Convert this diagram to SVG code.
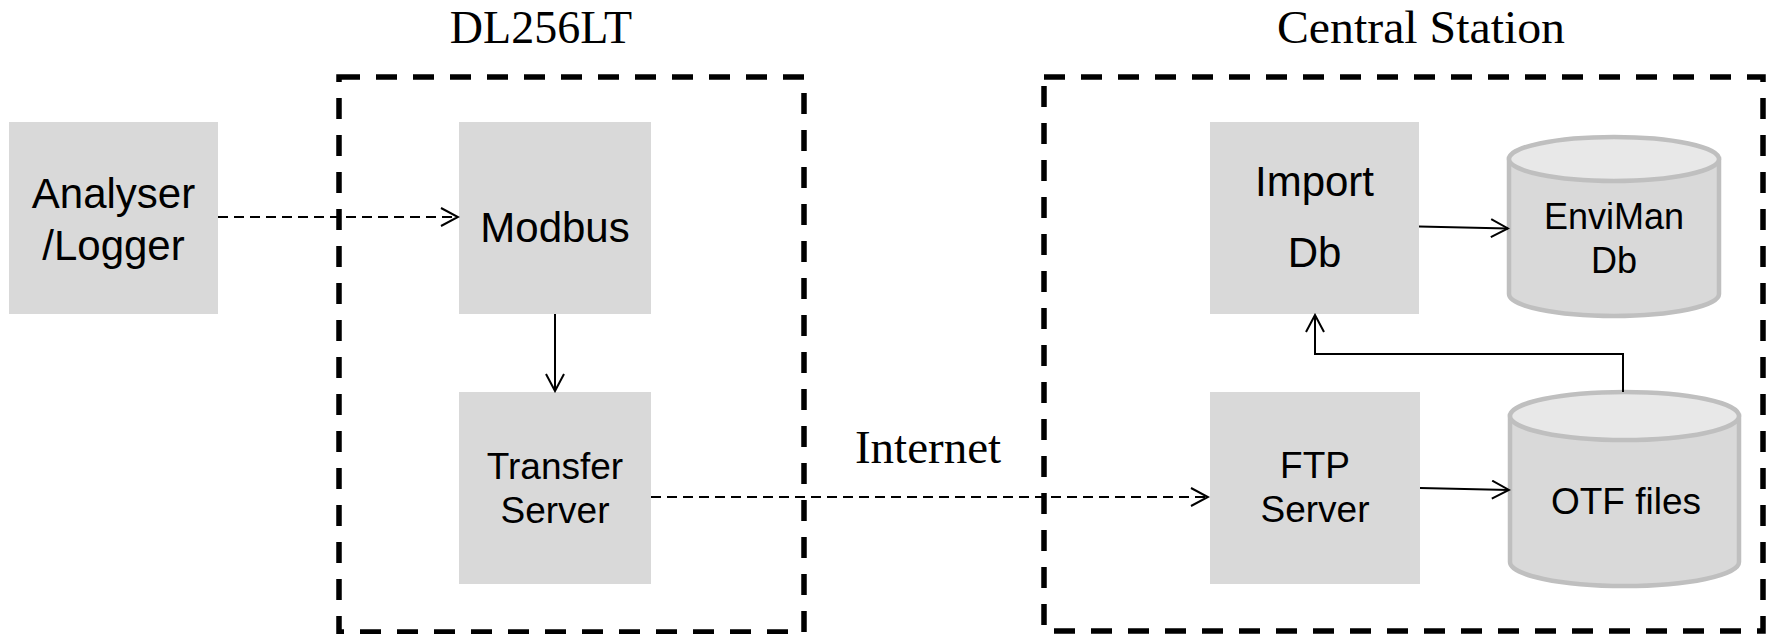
<svg xmlns="http://www.w3.org/2000/svg" width="1775" height="634" viewBox="0 0 1775 634">
<style>
.box{fill:#d9d9d9;stroke:none}
.lbl{font-family:"Liberation Sans",Arial,sans-serif;fill:#000;text-anchor:middle}
.title{font-family:"Liberation Serif","Times New Roman",serif;fill:#000;text-anchor:middle;font-size:46px}
.frame{fill:none;stroke:#000;stroke-width:5.5;stroke-dasharray:21 16}
.cyl{fill:#d9d9d9;stroke:#bfbfbf;stroke-width:4.5}
.cyltop{fill:#e8e8e8;stroke:#bfbfbf;stroke-width:4.5}
.solid{fill:none;stroke:#000;stroke-width:2}
.dash{fill:none;stroke:#000;stroke-width:2;stroke-dasharray:10 6}
</style>
<defs>
<marker id="arr" markerUnits="userSpaceOnUse" viewBox="0 0 20 20" markerWidth="20" markerHeight="20" refX="18" refY="10" orient="auto">
<path d="M1,1 L18,10 L1,19" fill="none" stroke="#000" stroke-width="2"/>
</marker>
</defs>
<rect width="1775" height="634" fill="#fff"/>

<g id="dl256lt">
<rect class="frame" x="339" y="77" width="465" height="555"/>
<text class="title" x="541" y="43">DL256LT</text>
</g>
<g id="central-station">
<rect class="frame" x="1044" y="77" width="719" height="554"/>
<text class="title" x="1421" y="43" textLength="288" lengthAdjust="spacingAndGlyphs">Central Station</text>
</g>
<g id="internet">
<text class="title" x="928" y="463" style="font-size:47px">Internet</text>
</g>

<g id="analyser">
<rect class="box" x="9" y="122" width="209" height="192"/>
<text class="lbl" x="113.5" y="208" font-size="42">Analyser</text>
<text class="lbl" x="113.5" y="260" font-size="42">/Logger</text>
</g>
<g id="modbus">
<rect class="box" x="459" y="122" width="192" height="192"/>
<text class="lbl" x="555" y="242" font-size="42">Modbus</text>
</g>
<g id="transfer-server">
<rect class="box" x="459" y="392" width="192" height="192"/>
<text class="lbl" x="555" y="479" font-size="37">Transfer</text>
<text class="lbl" x="555" y="523" font-size="37">Server</text>
</g>
<g id="import-db">
<rect class="box" x="1210" y="122" width="209" height="192"/>
<text class="lbl" x="1314.5" y="196" font-size="42">Import</text>
<text class="lbl" x="1314.5" y="267" font-size="42">Db</text>
</g>
<g id="ftp-server">
<rect class="box" x="1210" y="392" width="210" height="192"/>
<text class="lbl" x="1315" y="478" font-size="37">FTP</text>
<text class="lbl" x="1315" y="522" font-size="37">Server</text>
</g>
<g id="enviman-db">
<path class="cyl" d="M1509,159 V294 A105,22 0 0 0 1719,294 V159 Z"/>
<ellipse class="cyltop" cx="1614" cy="159" rx="105" ry="22"/>
<text class="lbl" x="1614" y="229" font-size="36">EnviMan</text>
<text class="lbl" x="1614" y="273" font-size="36">Db</text>
</g>
<g id="otf-files">
<path class="cyl" d="M1510,416 V562 A114.5,24 0 0 0 1739,562 V416 Z"/>
<ellipse class="cyltop" cx="1624.5" cy="416" rx="114.5" ry="24"/>
<text class="lbl" x="1626" y="514" font-size="37">OTF files</text>
</g>

<g id="connectors">
<line class="dash" x1="218" y1="217" x2="458" y2="217" marker-end="url(#arr)"/>
<line class="solid" x1="555" y1="314" x2="555" y2="391" marker-end="url(#arr)"/>
<line class="dash" x1="651" y1="497" x2="1208" y2="497" marker-end="url(#arr)"/>
<line class="solid" x1="1419" y1="226.5" x2="1508" y2="228.5" marker-end="url(#arr)"/>
<line class="solid" x1="1420" y1="488" x2="1509" y2="490" marker-end="url(#arr)"/>
<polyline class="solid" points="1623,392 1623,354 1315,354 1315,315" marker-end="url(#arr)"/>
</g>
</svg>
